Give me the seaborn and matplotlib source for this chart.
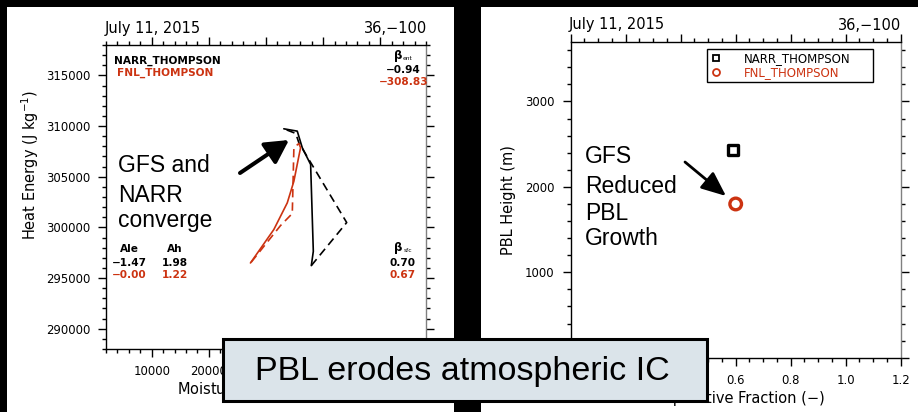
import numpy as np
import pandas as pd
import matplotlib
matplotlib.use("Agg")
import matplotlib.pyplot as plt
import seaborn as sns
from matplotlib.patches import Rectangle
from matplotlib.lines import Line2D
from matplotlib.ticker import MultipleLocator, StrMethodFormatter

# ---------------- data ----------------
narr_solid_moist = [37930, 38280, 37810, 36350, 35470, 33120]
narr_solid_heat = [296230, 297640, 306210, 307860, 309500, 309730]
narr_dash_moist = [37930, 44120, 35750, 35210, 33120]
narr_dash_heat = [296230, 300480, 308350, 309270, 309730]
fnl_solid_moist = [27280, 31370, 33720, 34880, 35750, 36050, 35750]
fnl_solid_heat = [296490, 299790, 302420, 304560, 307030, 307860, 308280]
fnl_dash_moist = [27400, 32540, 34600, 34880, 35750]
fnl_dash_heat = [296560, 300180, 301370, 307860, 308280]

models = ["NARR_THOMPSON", "FNL_THOMPSON"]
evap_fraction = [0.59, 0.60]
pbl_height = [2430, 1800]

ale_vals = ["\u22121.47", "\u22120.00"]
ah_vals = ["1.98", "1.22"]
beta_ent = ["\u22120.94", "\u2212308.83"]
beta_sfc = ["0.70", "0.67"]

RED = "#cc3311"
GRAY = "#808080"

sns.set_theme(style="ticks")
plt.rcParams["font.family"] = ["DejaVu Sans"]
plt.rcParams["text.color"] = "black"
plt.rcParams["axes.labelcolor"] = "black"
plt.rcParams["xtick.color"] = "black"
plt.rcParams["ytick.color"] = "black"

W, H = 918, 412
fig = plt.figure(figsize=(W / 100, H / 100), dpi=100, facecolor="black")


def fx(px):
    return px / W


def fy(py):
    return 1 - py / H


# white panels
fig.add_artist(Rectangle((fx(7), 0), fx(454) - fx(7), fy(7), transform=fig.transFigure,
                         facecolor="white", edgecolor="none", zorder=-5))
fig.add_artist(Rectangle((fx(481), 0), 1 - fx(481), fy(7), transform=fig.transFigure,
                         facecolor="white", edgecolor="none", zorder=-5))


def style_axes(ax, xmaj, xmin, ymaj, ymin):
    ax.xaxis.set_major_locator(MultipleLocator(xmaj))
    ax.xaxis.set_minor_locator(MultipleLocator(xmin))
    ax.yaxis.set_major_locator(MultipleLocator(ymaj))
    ax.yaxis.set_minor_locator(MultipleLocator(ymin))
    ax.tick_params(which="both", direction="out", top=True, right=True,
                   labeltop=False, labelright=False, colors="black", width=1.0,
                   labelsize=8.4, pad=5.5)
    ax.tick_params(which="major", length=6)
    ax.tick_params(which="minor", length=3)
    for s in ["left", "bottom", "top"]:
        ax.spines[s].set_color("black")
        ax.spines[s].set_linewidth(1.0)
    ax.spines["right"].set_color(GRAY)
    ax.spines["right"].set_linewidth(1.0)
    ax.grid(False)
    ax.set_facecolor("white")


# ---------------- left panel ----------------
ax1 = fig.add_axes([fx(106), fy(349), (426 - 106) / W, (349 - 45) / H])
ax1.set_xlim(2000, 58000)
ax1.set_ylim(288000, 318000)

lines = [
    (narr_solid_moist, narr_solid_heat, "black", "-"),
    (narr_dash_moist, narr_dash_heat, "black", (0, (5, 3))),
    (fnl_solid_moist, fnl_solid_heat, RED, "-"),
    (fnl_dash_moist, fnl_dash_heat, RED, (0, (5, 3))),
]
for xs, ys, c, ls in lines:
    df = pd.DataFrame({"moist": xs, "heat": ys})
    sns.lineplot(data=df, x="moist", y="heat", sort=False, estimator=None,
                 color=c, linestyle=ls, linewidth=1.2, ax=ax1)

style_axes(ax1, 10000, 2000, 5000, 1000)
ax1.xaxis.set_major_formatter(StrMethodFormatter("{x:.0f}"))
ax1.yaxis.set_major_formatter(StrMethodFormatter("{x:.0f}"))
ax1.set_xlabel("Moisture Energy (J kg$^{-1}$)", fontsize=10.5, color="black")
ax1.set_ylabel("Heat Energy (J kg$^{-1}$)", fontsize=10.5, color="black")
ax1.xaxis.set_label_coords(0.5, -0.098)
ax1.yaxis.set_label_coords((41 - 106) / 320, 0.605)

# ---------------- right panel ----------------
ax2 = fig.add_axes([fx(570.7), fy(357.7), 330 / W, 316 / H])
ax2.set_xlim(0, 1.2)
ax2.set_ylim(0, 3700)
pdf = pd.DataFrame({"model": models, "ef": evap_fraction, "pbl": pbl_height})
sns.scatterplot(data=pdf[pdf.model == models[0]], x="ef", y="pbl", marker="s", s=55,
                color="black", facecolor="none", edgecolor="black", linewidth=2.4, ax=ax2)
sns.scatterplot(data=pdf[pdf.model == models[1]], x="ef", y="pbl", marker="o", s=70,
                color=RED, facecolor="none", edgecolor=RED, linewidth=2.4, ax=ax2)
style_axes(ax2, 0.2, 0.05, 1000, 200)
ax2.xaxis.set_major_formatter(StrMethodFormatter("{x:.1f}"))
ax2.yaxis.set_major_formatter(StrMethodFormatter("{x:.0f}"))
ax2.set_xlabel("Evaporative Fraction (\u2212)", fontsize=10.5, color="black")
ax2.set_ylabel("PBL Height (m)", fontsize=10.5, color="black")
ax2.xaxis.set_label_coords(0.5, -0.105)
ax2.yaxis.set_label_coords((516 - 570.7) / 330, 0.5)

handles = [
    Line2D([], [], ls="none", marker="s", mfc="none", mec="black", ms=5, mew=1.3),
    Line2D([], [], ls="none", marker="o", mfc="none", mec=RED, ms=5, mew=1.3),
]
x0 = (707 - 570.7) / 330
x1 = (873 - 570.7) / 330
y1 = (357.7 - 49.3) / 316
y0 = (357.7 - 82) / 316
leg = ax2.legend(handles, models, loc="upper left",
                 bbox_to_anchor=(x0, y0, x1 - x0, y1 - y0), mode="expand",
                 fontsize=8.5, frameon=True, fancybox=False, framealpha=1,
                 edgecolor="black", borderpad=0.25, labelspacing=0.05,
                 handlelength=1.0, handletextpad=1.9, borderaxespad=0)
leg.get_frame().set_linewidth(1.0)
leg.get_texts()[0].set_color("black")
leg.get_texts()[1].set_color(RED)

# ticks on right side gray
for ax in (ax1, ax2):
    for t in ax.yaxis.get_major_ticks() + ax.yaxis.get_minor_ticks():
        t.tick2line.set_color(GRAY)

# ---------------- titles ----------------
tfs = 10.5
fig.text(fx(105), fy(33), "July 11, 2015", fontsize=tfs, ha="left", va="baseline")
fig.text(fx(427), fy(33), "36,\u2212100", fontsize=tfs, ha="right", va="baseline")
fig.text(fx(569), fy(29.5), "July 11, 2015", fontsize=tfs, ha="left", va="baseline")
fig.text(fx(901), fy(29.5), "36,\u2212100", fontsize=tfs, ha="right", va="baseline")

# ---------------- left panel inner text ----------------
bfs = 7.6
fig.text(fx(114), fy(63.3), models[0], fontsize=bfs, fontweight="bold", color="black", va="baseline")
fig.text(fx(117), fy(76), models[1], fontsize=bfs, fontweight="bold", color=RED, va="baseline")
fig.text(fx(394), fy(59), "\u03b2", fontsize=8.5, fontweight="bold", va="baseline")
fig.text(fx(403), fy(59.5), "ent", fontsize=4.3, va="baseline")
fig.text(fx(420.7), fy(72.7), beta_ent[0], fontsize=bfs, fontweight="bold", color="black", ha="right", va="baseline")
fig.text(fx(428.3), fy(85), beta_ent[1], fontsize=bfs, fontweight="bold", color=RED, ha="right", va="baseline")

fig.text(fx(120), fy(252.3), "Ale", fontsize=bfs, fontweight="bold", va="baseline")
fig.text(fx(167), fy(252.3), "Ah", fontsize=bfs, fontweight="bold", va="baseline")
fig.text(fx(112), fy(265.7), ale_vals[0], fontsize=bfs, fontweight="bold", va="baseline")
fig.text(fx(162), fy(265.7), ah_vals[0], fontsize=bfs, fontweight="bold", va="baseline")
fig.text(fx(112), fy(278.3), ale_vals[1], fontsize=bfs, fontweight="bold", color=RED, va="baseline")
fig.text(fx(162), fy(278.3), ah_vals[1], fontsize=bfs, fontweight="bold", color=RED, va="baseline")
fig.text(fx(394), fy(251), "\u03b2", fontsize=8.5, fontweight="bold", va="baseline")
fig.text(fx(404), fy(252.5), "sfc", fontsize=4.3, va="baseline")
fig.text(fx(416), fy(265.7), beta_sfc[0], fontsize=bfs, fontweight="bold", ha="right", va="baseline")
fig.text(fx(416), fy(278.3), beta_sfc[1], fontsize=bfs, fontweight="bold", color=RED, ha="right", va="baseline")

# ---------------- annotations ----------------
AF = "Liberation Sans"
for txt, yb in [("GFS and", 171.7), ("NARR", 201.7), ("converge", 226.7)]:
    fig.text(fx(118), fy(yb), txt, fontsize=16.5, family=AF, ha="left", va="baseline")
for txt, yb in [("GFS", 163.3), ("Reduced", 193.3), ("PBL", 220), ("Growth", 245)]:
    fig.text(fx(585), fy(yb), txt, fontsize=16.5, family=AF, ha="left", va="baseline")

fig.add_artist(matplotlib.patches.FancyArrowPatch(
    (fx(240), fy(173)), (fx(289), fy(140)), transform=fig.transFigure,
    arrowstyle="-|>,head_length=0.7,head_width=0.38", mutation_scale=20,
    lw=2.9, color="black", shrinkA=0, shrinkB=0, zorder=5))
fig.add_artist(matplotlib.patches.FancyArrowPatch(
    (fx(685), fy(162)), (fx(726), fy(196)), transform=fig.transFigure,
    arrowstyle="-|>,head_length=0.75,head_width=0.32", mutation_scale=20,
    lw=2.0, color="black", shrinkA=0, shrinkB=0, zorder=5))

# ---------------- overlay box ----------------
fig.add_artist(Rectangle((fx(223), fy(401)), (707 - 223) / W, (401 - 339) / H,
                         transform=fig.transFigure, facecolor="#dbe4ea",
                         edgecolor="black", linewidth=2.2, zorder=10))
fig.text(fx(462), fy(380), "PBL erodes atmospheric IC", fontsize=24.5, family=AF,
         color="black", ha="center", va="baseline", zorder=11)

fig.savefig("out.png", dpi=100, facecolor=fig.get_facecolor())
